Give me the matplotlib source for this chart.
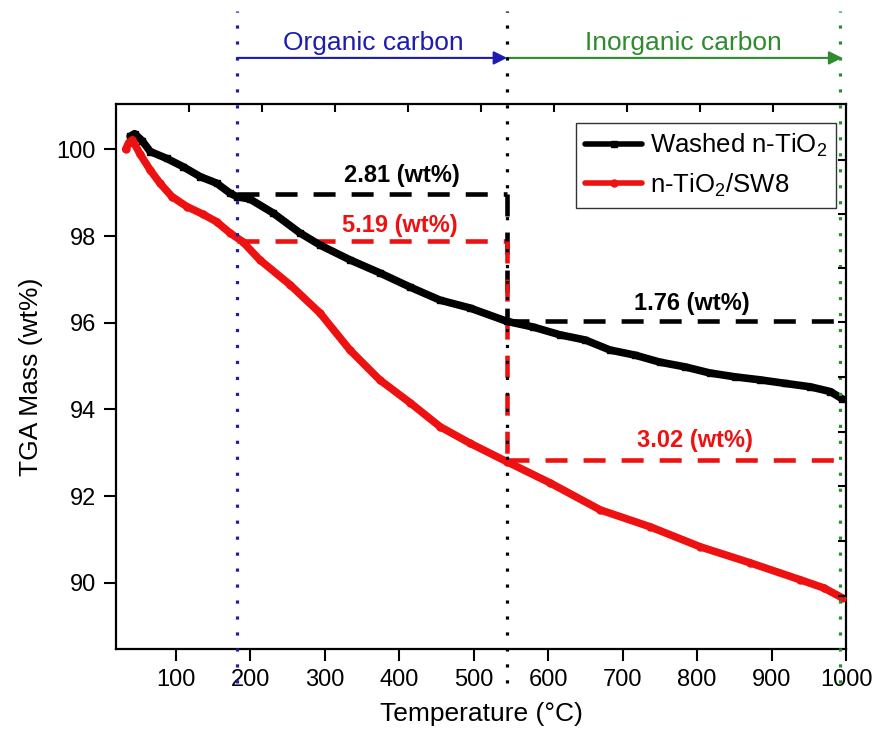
import matplotlib
matplotlib.use("Agg")
import matplotlib.pyplot as plt

plt.rcParams["font.family"] = ["Liberation Sans", "DejaVu Sans"]
plt.rcParams["mathtext.fontset"] = "custom"
plt.rcParams["mathtext.rm"] = "Liberation Sans"

# TGA curves
temp_washed = [39, 45, 55, 66, 88, 110, 133, 155, 173, 182, 200, 231, 267, 294, 334,
               374, 415, 455, 495, 545, 580, 616, 650, 683, 717, 750, 784, 817, 851,
               885, 918, 952, 979, 995]
mass_washed = [100.3, 100.36, 100.2, 99.95, 99.79, 99.6, 99.37, 99.22, 98.99, 98.91,
               98.85, 98.53, 98.07, 97.79, 97.45, 97.15, 96.82, 96.52, 96.34, 96.03,
               95.9, 95.72, 95.6, 95.37, 95.25, 95.09, 94.98, 94.84, 94.75, 94.68,
               94.6, 94.52, 94.41, 94.24]

temp_sw8 = [33, 37, 42, 52, 66, 79, 95, 115, 137, 155, 173, 190, 213, 254, 294, 334,
            374, 415, 455, 495, 545, 603, 670, 737, 804, 871, 938, 970, 995]
mass_sw8 = [100.0, 100.15, 100.22, 99.9, 99.52, 99.22, 98.91, 98.68, 98.5, 98.33,
            98.07, 97.87, 97.45, 96.87, 96.22, 95.37, 94.68, 94.15, 93.6, 93.22, 92.79,
            92.3, 91.68, 91.29, 90.83, 90.46, 90.07, 89.88, 89.65]

# region boundaries (deg C)
t_start = 182.5
t_mid = 545
t_end = 992

# step levels and labels
washed_levels = [98.96, 96.05]
sw8_levels = [97.88, 92.83]
washed_labels = ["2.81 (wt%)", "1.76 (wt%)"]
sw8_labels = ["5.19 (wt%)", "3.02 (wt%)"]

x_ticks = [100, 200, 300, 400, 500, 600, 700, 800, 900, 1000]
y_ticks = [90, 92, 94, 96, 98, 100]
top_ticks = [118, 216, 314, 412, 510, 608, 706, 804, 902]
right_ticks = [99.75, 98.51, 97.26, 96.02, 94.75, 93.48, 92.22, 90.96, 89.70]

RED = "#ee1111"
BLUE = "#1c1cb0"
GREEN = "#2e8b2e"

fig = plt.figure(figsize=(8.78, 7.38), dpi=100)
pos = [0.1321, 0.1206, 0.8315, 0.7381]
ax = fig.add_axes(pos)
xlim = (20, 1000)
ylim = (88.47, 101.04)

ax.plot(temp_washed, mass_washed, color="black", lw=5.5, marker="s", ms=5,
        solid_joinstyle="round", solid_capstyle="round",
        label="Washed n-TiO$_2$", zorder=3)
ax.plot(temp_sw8, mass_sw8, color=RED, lw=5.5, marker="o", ms=5,
        solid_joinstyle="round", solid_capstyle="round",
        label="n-TiO$_2$/SW8", zorder=3)

# step annotations
dash = (0, (4.8, 3.5))
lw_d = 3.3
ax.plot([t_start, t_mid], [washed_levels[0]] * 2, color="black", lw=lw_d, ls=dash)
ax.plot([t_start, t_mid], [sw8_levels[0]] * 2, color=RED, lw=lw_d, ls=dash)
ax.plot([t_mid, xlim[1]], [washed_levels[1]] * 2, color="black", lw=lw_d, ls=dash, clip_on=False)
ax.plot([t_mid, xlim[1]], [sw8_levels[1]] * 2, color=RED, lw=lw_d, ls=dash, clip_on=False)
ax.plot([t_mid, t_mid], [washed_levels[0], washed_levels[1]], color="black", lw=lw_d, ls=dash)
ax.plot([t_mid, t_mid], [sw8_levels[0], sw8_levels[1]], color=RED, lw=lw_d, ls=dash)

ax.text(404, 99.40, washed_labels[0], color="black", fontsize=17, fontweight="bold",
        ha="center", va="center")
ax.text(401, 98.25, sw8_labels[0], color=RED, fontsize=17, fontweight="bold",
        ha="center", va="center")
ax.text(793, 96.45, washed_labels[1], color="black", fontsize=17, fontweight="bold",
        ha="center", va="center")
ax.text(797, 93.29, sw8_labels[1], color=RED, fontsize=17, fontweight="bold",
        ha="center", va="center")

# dotted region boundaries, running above the frame
dot = (0, (1, 4))
for t, c in [(t_start, BLUE), (t_mid, "black"), (t_end, GREEN)]:
    ax.plot([t, t], [87.69, 103.2], color=c, lw=2.3, ls=dot, clip_on=False, zorder=4)

ax.annotate("", xy=(t_mid, 102.11), xytext=(t_start, 102.11), annotation_clip=False,
            arrowprops=dict(arrowstyle="-|>", color=BLUE, lw=1.5, mutation_scale=20,
                            shrinkA=0, shrinkB=0))
ax.annotate("", xy=(995, 102.11), xytext=(t_mid, 102.11), annotation_clip=False,
            arrowprops=dict(arrowstyle="-|>", color=GREEN, lw=1.5, mutation_scale=20,
                            shrinkA=0, shrinkB=0))
ax.text(365, 102.45, "Organic carbon", color=BLUE, fontsize=19, ha="center", va="center")
ax.text(781, 102.45, "Inorganic carbon", color=GREEN, fontsize=19, ha="center", va="center")

ax.set_xlim(*xlim)
ax.set_ylim(*ylim)
ax.set_xticks(x_ticks)
ax.set_yticks(y_ticks)
ax.tick_params(direction="out", length=8.5, width=1.5, labelsize=17, pad=6)
for s in ax.spines.values():
    s.set_linewidth(1.6)
ax.set_xlabel("Temperature (°C)", fontsize=19, labelpad=8)
ax.set_ylabel("TGA Mass (wt%)", fontsize=19, labelpad=10)

leg = ax.legend(loc="upper right", bbox_to_anchor=(0.9863, 0.9657), borderaxespad=0,
                fontsize=18.5, handlelength=2.2, handletextpad=0.3, labelspacing=0.45,
                frameon=True, fancybox=False, borderpad=0.35)
leg.get_frame().set_edgecolor("black")
leg.get_frame().set_linewidth(1.0)
for h in leg.get_lines():
    h.set_linewidth(4)

# top and right ticks (independent scales, as in the original)
ax2 = fig.add_axes(pos, frameon=False)
ax2.set_xlim(*xlim)
ax2.set_ylim(*ylim)
ax2.xaxis.tick_top()
ax2.yaxis.tick_right()
ax2.set_xticks(top_ticks)
ax2.set_yticks(right_ticks)
ax2.tick_params(direction="in", length=6, width=1.5, labeltop=False, labelright=False)
ax2.patch.set_visible(False)

fig.savefig("out.png", dpi=100)
